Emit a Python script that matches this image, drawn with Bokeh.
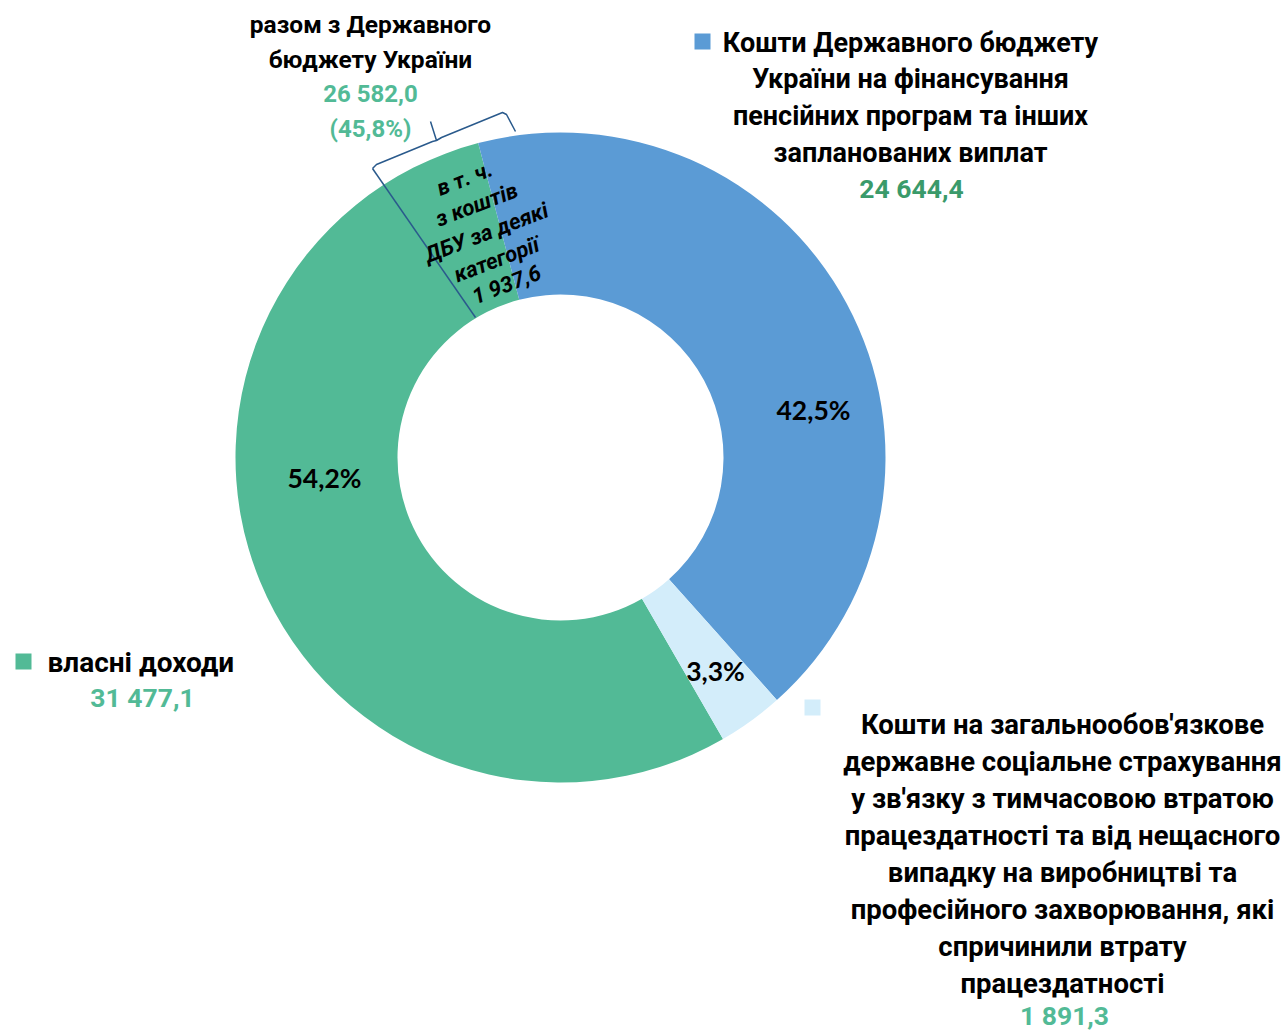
import math
from bokeh.plotting import figure
from bokeh.models import Range1d
from bokeh.core.properties import value
from bokeh.embed import file_html
from bokeh.resources import INLINE

# ---------------- data ----------------
categories = ["власні доходи",
              "Кошти Державного бюджету України на фінансування пенсійних програм та інших запланованих виплат",
              "Кошти на загальнообов'язкове державне соціальне страхування"]
values = [31477.1, 24644.4, 1891.3]
value_labels = ["31 477,1", "24 644,4", "1 891,3"]
pct_labels = ["54,2%", "42,5%", "3,3%"]
colors = ["#52BA96", "#5B9BD5", "#D3EDFA"]
sub_value = 1937.6
sub_lines = ["в т. ч.", "з коштів", "ДБУ за деякі", "категорії", "1 937,6"]
combined_lines = ["разом з Державного", "бюджету України"]
combined_value = "26 582,0"
combined_pct = "(45,8%)"
blue_lines = ["Кошти Державного бюджету", "України на фінансування",
              "пенсійних програм та інших", "запланованих виплат"]
light_lines = ["Кошти на загальнообов'язкове", "державне соціальне страхування",
               "у зв'язку з тимчасовою втратою", "працездатності та від нещасного",
               "випадку на виробництві та", "професійного захворювання, які",
               "спричинили втрату", "працездатності"]
green_lines = ["власні доходи"]

# ---------------- layout ----------------
W, H = 1286, 1031
CX, CY = 560, 457          # pixel centre of the donut
R_OUT, R_IN = 325, 163
FIRST_ANGLE = 150.0        # degrees clockwise from 12 o'clock
FONT = "Roboto"
PFONT = "Lato"

def Y(py):
    return H - py

p = figure(width=W, height=H, x_range=Range1d(0, W), y_range=Range1d(0, H),
           min_border=0, output_backend="svg", toolbar_location=None,
           x_axis_location=None, y_axis_location=None)
p.grid.visible = False
p.outline_line_color = None
p.background_fill_color = "white"

total = sum(values)
theta = FIRST_ANGLE
starts, ends = [], []
for v in values:
    t0 = theta
    t1 = theta + v / total * 360.0
    # clockwise-from-top -> math angle
    starts.append(math.radians(90 - t1))
    ends.append(math.radians(90 - t0))
    theta = t1

p.annular_wedge(x=[CX] * len(values), y=[Y(CY)] * len(values),
                inner_radius=R_IN, outer_radius=R_OUT,
                start_angle=starts, end_angle=ends,
                fill_color=colors, line_color=None)

def txt(x, py, s, size, color="#000000", font=FONT, style="bold", align="center", angle=0.0):
    p.text(x=[x], y=[Y(py)], text=[s], text_font=value(font), text_font_size=f"{size}px",
           text_font_style=style, text_color=color, text_align=align,
           text_baseline="middle", angle=angle)

# percentage labels
pct_pos = [(324, 477), (813, 409), (715, 670)]
for (x, py), s in zip(pct_pos, pct_labels):
    txt(x, py, s, 26.5, font=PFONT)

# divider line and brace (annotation)
line_col = "#2A5A8C"
p.line(x=[475, 372], y=[Y(317), Y(168)], line_color=line_col, line_width=1.5)
p.line(x=[372, 376, 432, 436, 430], y=[Y(168), Y(164), Y(141), Y(140), Y(121)],
       line_color=line_col, line_width=1.5)
p.line(x=[436, 441, 502, 506, 515], y=[Y(140), Y(137), Y(112), Y(114), Y(131)],
       line_color=line_col, line_width=1.5)

# sub-part label (rotated, italic)
rot = math.radians(21)
sub_pos = [(464, 178), (476, 204), (486, 232), (496, 259), (506, 284)]
for (x, py), s in zip(sub_pos, sub_lines):
    txt(x, py, s, 22, style="bold italic", angle=rot)

# combined label (top-left)
VAL_GREEN = "#52BA96"
DARK_GREEN = "#3A9A6A"
for py, s in zip([24, 59], combined_lines):
    txt(370, py, s, 24.5)
txt(370, 93, combined_value, 24, color=VAL_GREEN)
txt(370, 128, combined_pct, 24, color=VAL_GREEN)

# legend squares
p.rect(x=[23, 702, 812], y=[Y(661), Y(41), Y(707)], width=16, height=16,
       fill_color=colors, line_color=None)

# blue label (top-right)
for py, s in zip([42, 78, 115, 152], blue_lines):
    txt(910, py, s, 27)
txt(911, 188, value_labels[1], 26.5, color=DARK_GREEN)

# light-blue label (bottom-right)
ys = [724, 761, 798, 835, 872, 909, 946, 983]
for py, s in zip(ys, light_lines):
    txt(1062, py, s, 27.5)
txt(1064, 1015, value_labels[2], 26.5, color=VAL_GREEN)

# green label (left)
txt(47, 662, green_lines[0], 28, align="left")
txt(142, 697, value_labels[0], 26.5, color=VAL_GREEN)

open("out.html", "w").write(file_html(p, INLINE))
